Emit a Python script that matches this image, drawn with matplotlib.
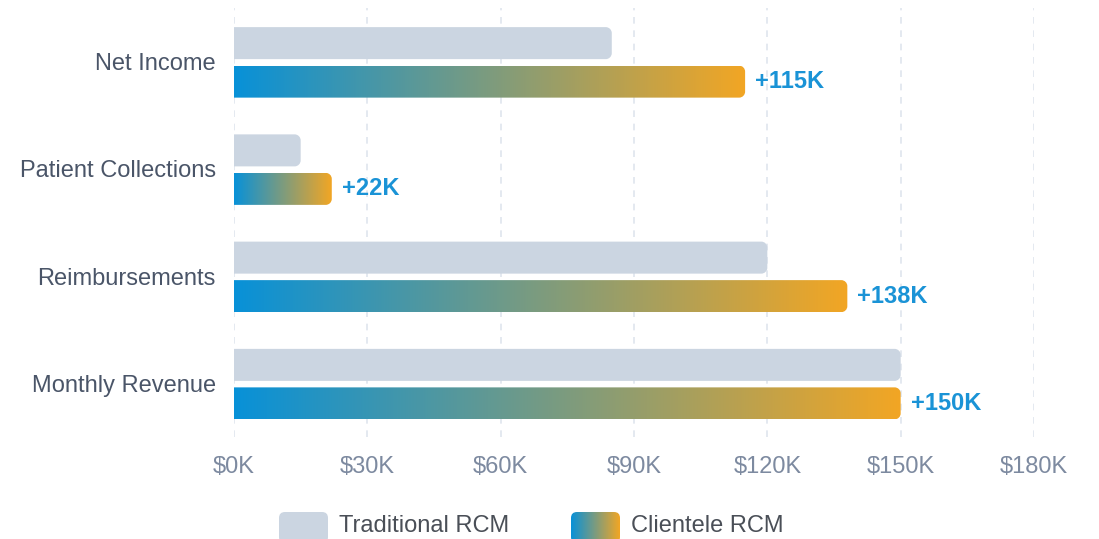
import numpy as np
import matplotlib
matplotlib.use("Agg")
import matplotlib.pyplot as plt
from matplotlib.path import Path
from matplotlib.patches import PathPatch, FancyBboxPatch
from matplotlib.colors import LinearSegmentedColormap

plt.rcParams['font.family'] = ['Liberation Sans', 'DejaVu Sans']

categories = ["Net Income", "Patient Collections", "Reimbursements", "Monthly Revenue"]
traditional = [85, 15, 120, 150]      # $K
clientele = [115, 22, 138, 150]       # $K
gain_labels = ["+115K", "+22K", "+138K", "+150K"]
xticks = [0, 30, 60, 90, 120, 150, 180]
series_names = ["Traditional RCM", "Clientele RCM"]

GRAY = "#cbd5e1"
BLUE = "#0891d8"
ORANGE = "#f2a624"
grad = LinearSegmentedColormap.from_list("rcm", [BLUE, ORANGE])

W, H = 1099, 539
fig = plt.figure(figsize=(W / 100, H / 100), dpi=100)
# axes box in pixels: x 234..1034, y 8..437
ax = fig.add_axes([234 / W, (H - 437) / H, 800 / W, 429 / H])

xmax = 180
ax.set_xlim(0, xmax)
ax.set_ylim(3.5, -0.5)
px_x = xmax / 800.0          # data per pixel (x)
px_y = 4 / 429.0             # data per pixel (y)
rx, ry = 6 * px_x, 6 * px_y

bar_h = 32 * px_y
off_gray = -18.5 * px_y
off_grad = 20 * px_y


def right_round(x0, x1, yc, h):
    y0, y1 = yc - h / 2, yc + h / 2
    r = min(rx, (x1 - x0))
    k = 0.5523
    verts = [(x0, y0), (x1 - r, y0), (x1 - r + k * r, y0), (x1, y0 + ry - k * ry), (x1, y0 + ry),
             (x1, y1 - ry), (x1, y1 - ry + k * ry), (x1 - r + k * r, y1), (x1 - r, y1),
             (x0, y1), (x0, y0)]
    codes = [Path.MOVETO, Path.LINETO, Path.CURVE4, Path.CURVE4, Path.CURVE4,
             Path.LINETO, Path.CURVE4, Path.CURVE4, Path.CURVE4, Path.LINETO, Path.CLOSEPOLY]
    return Path(verts, codes)


gradient = np.linspace(0, 1, 256).reshape(1, -1)

for i, (t, c, lab) in enumerate(zip(traditional, clientele, gain_labels)):
    # traditional bar
    p = PathPatch(right_round(0, t, i + off_gray, bar_h), facecolor=GRAY, edgecolor="none", zorder=3)
    ax.add_patch(p)
    # clientele gradient bar
    yc = i + off_grad
    clip = PathPatch(right_round(0, c, yc, bar_h), facecolor="none", edgecolor="none")
    ax.add_patch(clip)
    im = ax.imshow(gradient, cmap=grad, aspect="auto", interpolation="bilinear",
                   extent=(0, c, yc + bar_h / 2, yc - bar_h / 2), zorder=3)
    im.set_clip_path(clip)
    ax.text(c + 10 * px_x, yc, lab, color="#1a93d6", fontsize=17, fontweight="bold",
            va="center", ha="left", zorder=4)

ax.set_xlim(0, xmax)
ax.set_ylim(3.5, -0.5)

ax.set_xticks(xticks)
ax.set_xticklabels([f"${v}K" for v in xticks])
ax.set_yticks(range(len(categories)))
ax.set_yticklabels(categories)
ax.tick_params(axis="x", length=0, pad=14, labelsize=17, labelcolor="#7d8aa0")
ax.tick_params(axis="y", length=0, pad=13, labelsize=17, labelcolor="#4a5568")
for s in ax.spines.values():
    s.set_visible(False)
ax.grid(axis="x", color="#dfe5ee", linestyle=(0, (4, 4)), linewidth=1.2, zorder=0)
ax.set_axisbelow(True)


# legend
def legend_box(x, kind):
    lax = fig.add_axes([x / W, 0, 49 / W, 27 / H])
    lax.set_xlim(0, 49)
    lax.set_ylim(0, 27)
    lax.axis("off")
    box = FancyBboxPatch((0, -4), 49, 31, boxstyle="round,pad=0,rounding_size=6",
                         facecolor=GRAY if kind == 0 else "none", edgecolor="none")
    lax.add_patch(box)
    if kind == 1:
        im = lax.imshow(gradient, cmap=grad, aspect="auto", interpolation="bilinear",
                        extent=(0, 49, -4, 27))
        im.set_clip_path(box)
        lax.set_xlim(0, 49)
        lax.set_ylim(0, 27)


legend_box(279, 0)
legend_box(571, 1)
fig.text(339 / W, (H - 526) / H, series_names[0], fontsize=17, color="#4a4f57", va="center", ha="left")
fig.text(631 / W, (H - 526) / H, series_names[1], fontsize=17, color="#4a4f57", va="center", ha="left")

fig.savefig("out.png", dpi=100)
